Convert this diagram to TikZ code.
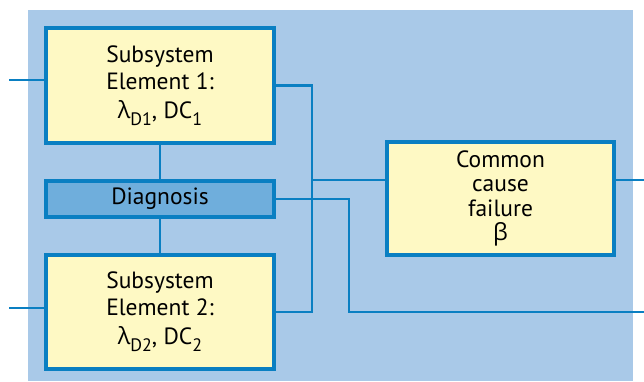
\documentclass[tikz,border=0pt]{standalone}
\usepackage{fontspec}
\setmainfont{PT Sans}
\newfontfamily\grk{Open Sans}
\newcommand\mysub[1]{\raisebox{-0.3em}{\fontsize{18}{18}\selectfont #1}}
\definecolor{bgblue}{HTML}{A9C9E8}
\definecolor{lineblue}{HTML}{0A7FC2}
\definecolor{boxyellow}{HTML}{FEF9C4}
\definecolor{diagblue}{HTML}{6FAEDC}
\tikzset{
  elem/.style={draw=lineblue, line width=3.2pt, fill=boxyellow, align=center,
    font=\fontsize{23.5}{27}\selectfont, inner sep=0pt},
  diagbox/.style={draw=lineblue, line width=3.2pt, fill=diagblue, align=center,
    font=\fontsize{23.5}{27}\selectfont, inner sep=0pt},
  conn/.style={draw=lineblue, line width=2.2pt}
}
\begin{document}
\begin{tikzpicture}[x=1pt,y=-1pt]
\useasboundingbox (0,0) rectangle (644,381);
\fill[bgblue] (28,10) rectangle (633,381);
\node[elem, minimum width=228pt, minimum height=115pt] (e1) at (160,85.5)
  {Subsystem\\Element 1:\\[2pt]{\grk λ}\mysub{D1}, DC\mysub{1}};
\node[diagbox, minimum width=228pt, minimum height=36pt] (dg) at (160,199) {Diagnosis};
\node[elem, minimum width=228pt, minimum height=114pt] (e2) at (160,312)
  {Subsystem\\Element 2:\\[2pt]{\grk λ}\mysub{D2}, DC\mysub{2}};
\node[elem, minimum width=227pt, minimum height=113pt, font=\fontsize{23.5}{24.5}\selectfont] (cc) at (500.5,198.5)
  {Common\\cause\\failure\\{\grk β}};
\coordinate (in1) at (9,80);
\coordinate (in2) at (9,308);
\coordinate (j) at (312,180);
\coordinate (k) at (349,312);
\coordinate (out1) at (644,180);
\coordinate (out2) at (644,312);
\draw[conn] (in1) -- (in1 -| e1.west);
\draw[conn] (in2) -- (in2 -| e2.west);
\draw[conn] (e1.south) -- (dg.north);
\draw[conn] (dg.south) -- (e2.north);
\draw[conn] (e1.east) -| (j);
\draw[conn] (e2.east) -| (j);
\draw[conn] (j) -- (j -| cc.west);
\draw[conn] (out1 -| cc.east) -- (out1);
\draw[conn] (dg.east) -| (k) -- (out2);
\end{tikzpicture}
\end{document}
